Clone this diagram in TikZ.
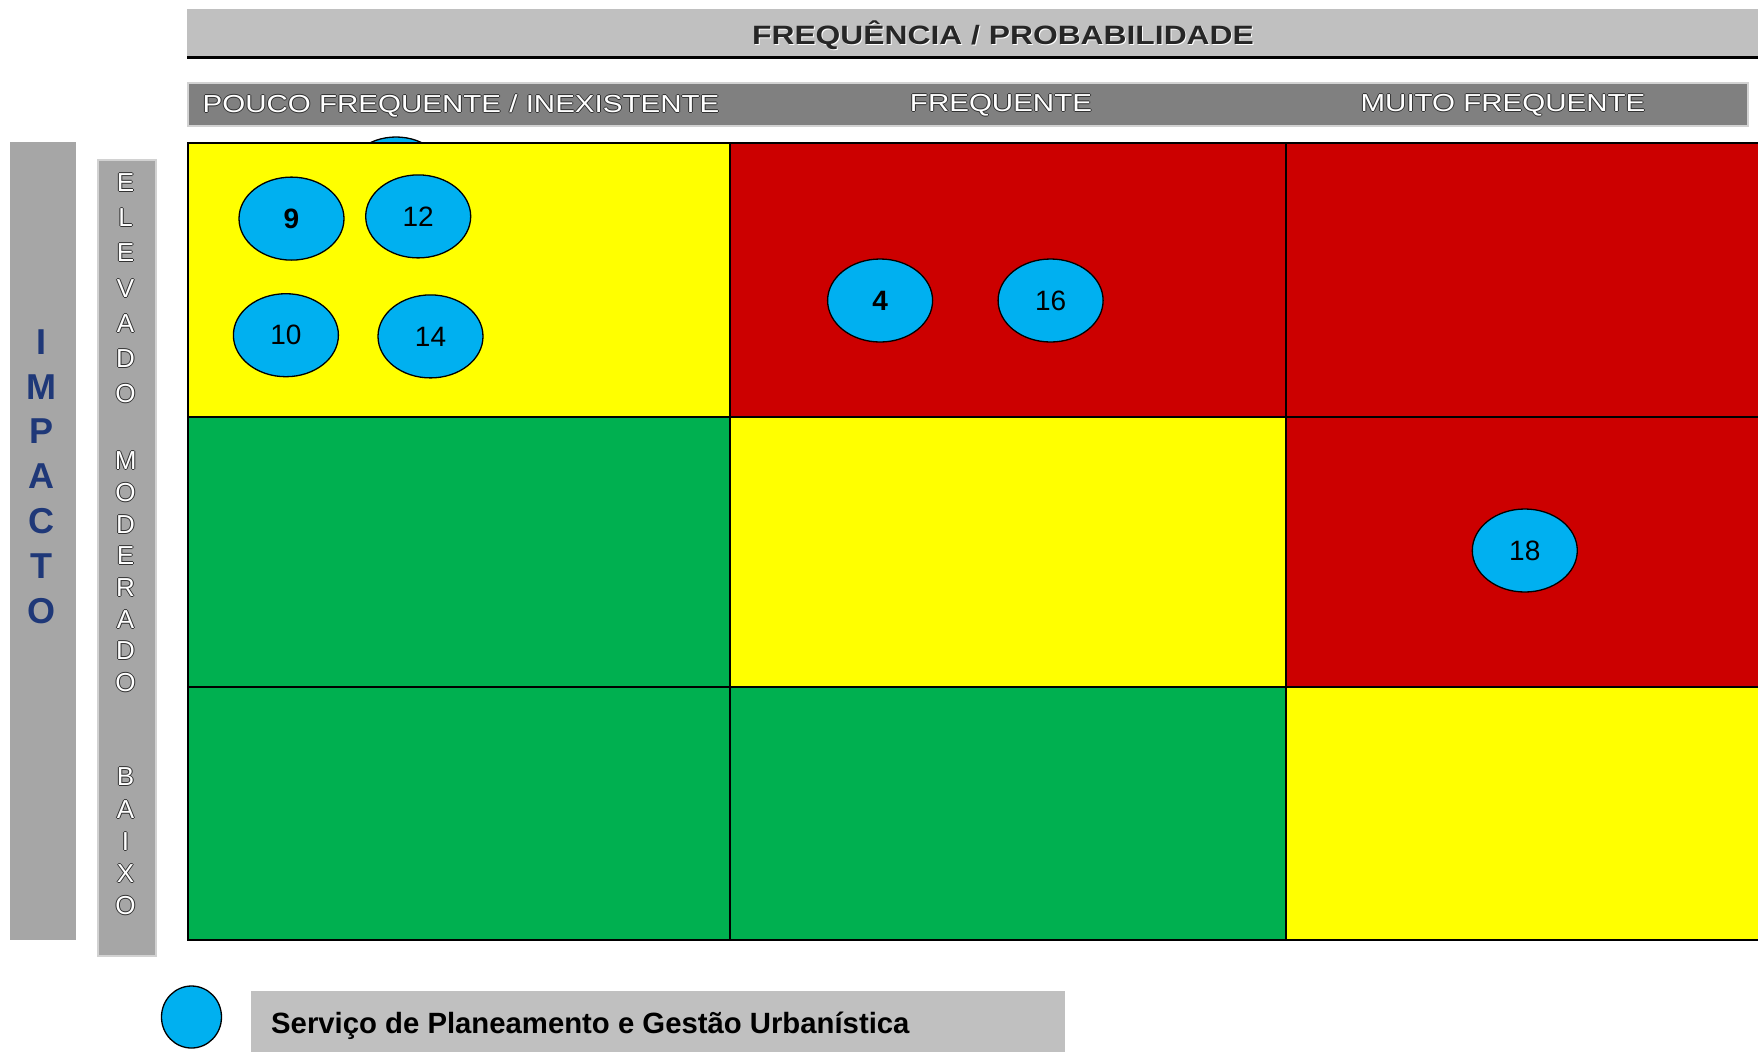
\documentclass[tikz,border=0pt]{standalone}
\usepackage{fontspec}
\setmainfont{Liberation Sans}
\newfontfamily\widefont[FakeStretch=1.2]{Liberation Sans}
\usetikzlibrary{shapes.geometric}
\definecolor{cyell}{RGB}{255,255,0}
\definecolor{cred}{RGB}{204,0,0}
\definecolor{cgreen}{RGB}{0,176,80}
\definecolor{cblue}{RGB}{0,176,240}
\definecolor{navy}{RGB}{31,56,120}
\definecolor{olc}{RGB}{50,50,50}
\definecolor{topgray}{RGB}{192,192,192}
\definecolor{midgray}{RGB}{128,128,128}
\definecolor{bargray}{RGB}{166,166,166}
\definecolor{edgegray}{RGB}{210,210,210}
\newcommand\outl[1]{\rlap{\kern-1pt\textcolor{olc}{#1}}\rlap{\kern1pt\textcolor{olc}{#1}}\rlap{\raisebox{1pt}{\textcolor{olc}{#1}}}\rlap{\raisebox{-1pt}{\textcolor{olc}{#1}}}\textcolor{white}{#1}}
\newcommand\dkt[1]{\rlap{\kern1pt\raisebox{-1pt}{\textcolor{white}{#1}}}\textcolor{black!85}{#1}}
\begin{document}
\begin{tikzpicture}[x=1pt,y=-1pt,
  ell/.style={ellipse, draw=black, line width=1.3pt, fill=cblue, minimum width=105pt, minimum height=83pt, inner sep=0pt, font=\fontsize{28}{32}\selectfont},
  hdr/.style={font=\widefont\fontsize{24.6}{28}\selectfont, inner sep=0pt},
  vlet/.style={font=\fontsize{26}{28}\selectfont, inner sep=0pt},
  grid/.style={draw=black, line width=2pt}]
\useasboundingbox (0,0) rectangle (1758,1053);
\fill[white] (0,0) rectangle (1758,1053);
% top bar
\fill[topgray] (187,9) rectangle (1758,57);
\draw[black, line width=3pt] (187,57.5) -- (1758,57.5);
\node[font=\widefont\bfseries\fontsize{26.5}{30}\selectfont, inner sep=0pt] (title) at (1003,35.5) {\dkt{FREQUÊNCIA / PROBABILIDADE}};
% second bar
\fill[midgray, draw=edgegray, line width=2pt] (188,83) rectangle (1748,126);
\node[hdr] (c1) at (461,105.5) {\outl{POUCO FREQUENTE / INEXISTENTE}};
\node[hdr] (c2) at (1001,105.5) {\outl{FREQUENTE}};
\node[hdr] (c3) at (1503,105.5) {\outl{MUITO FREQUENTE}};
% left bars
\fill[bargray] (10,142) rectangle (76,940);
\foreach \l [count=\i] in {I,M,P,A,C,T,O}
  \node[font=\bfseries\fontsize{36}{40}\selectfont, text=navy, inner sep=0pt] (imp\i) at (41.5,{342+(\i-1)*44.8}) {\l};
\fill[bargray, draw=edgegray, line width=2pt] (97.5,160) rectangle (156,956);
\foreach \l [count=\i] in {E,L,E,V,A,D,O}
  \node[vlet] (ele\i) at (125.6,{182.8+(\i-1)*35.1}) {\outl{\l}};
\foreach \l [count=\i] in {M,O,D,E,R,A,D,O}
  \node[vlet] (mod\i) at (125.6,{460.8+(\i-1)*31.7}) {\outl{\l}};
\foreach \l [count=\i] in {B,A,I,X,O}
  \node[vlet] (bai\i) at (125.6,{777+(\i-1)*32.2}) {\outl{\l}};
% partly hidden ellipse
\node[ell, minimum width=100pt, minimum height=80pt] (hid) at (396,177) {};
% cells
\fill[cyell] (188,143) rectangle (730,417);
\fill[cred] (730,143) rectangle (1286,417);
\fill[cred] (1286,143) rectangle (1760,417);
\fill[cgreen] (188,417) rectangle (730,687);
\fill[cyell] (730,417) rectangle (1286,687);
\fill[cred] (1286,417) rectangle (1760,687);
\fill[cgreen] (188,687) rectangle (730,940);
\fill[cgreen] (730,687) rectangle (1286,940);
\fill[cyell] (1286,687) rectangle (1760,940);
\draw[grid] (188,143) rectangle (1762,940);
\draw[grid] (730,143) -- (730,940);
\draw[grid] (1286,143) -- (1286,940);
\draw[grid] (188,417) -- (1762,417);
\draw[grid] (188,687) -- (1762,687);
% risk ellipses
\node[ell, font=\bfseries\fontsize{28}{32}\selectfont] (r9) at (291.5,218.6) {9};
\node[ell] (r12) at (418.2,216.4) {12};
\node[ell] (r10) at (285.9,335.2) {10};
\node[ell] (r14) at (430.5,336.4) {14};
\node[ell, font=\bfseries\fontsize{28}{32}\selectfont] (r4) at (880.1,300.5) {4};
\node[ell] (r16) at (1050.6,300.5) {16};
\node[ell] (r18) at (1524.8,550.5) {18};
% legend
\node[ell, minimum width=60pt, minimum height=62pt] (leg) at (191.5,1017) {};
\node[fill=topgray, minimum width=814pt, minimum height=61pt, inner sep=0pt, anchor=north west] (legbox) at (251,991) {};
\node[font=\bfseries\fontsize{29.3}{33}\selectfont, anchor=west, inner sep=0pt] (legtxt) at (271,1026) {Serviço de Planeamento e Gestão Urbanística};
\end{tikzpicture}
\end{document}
